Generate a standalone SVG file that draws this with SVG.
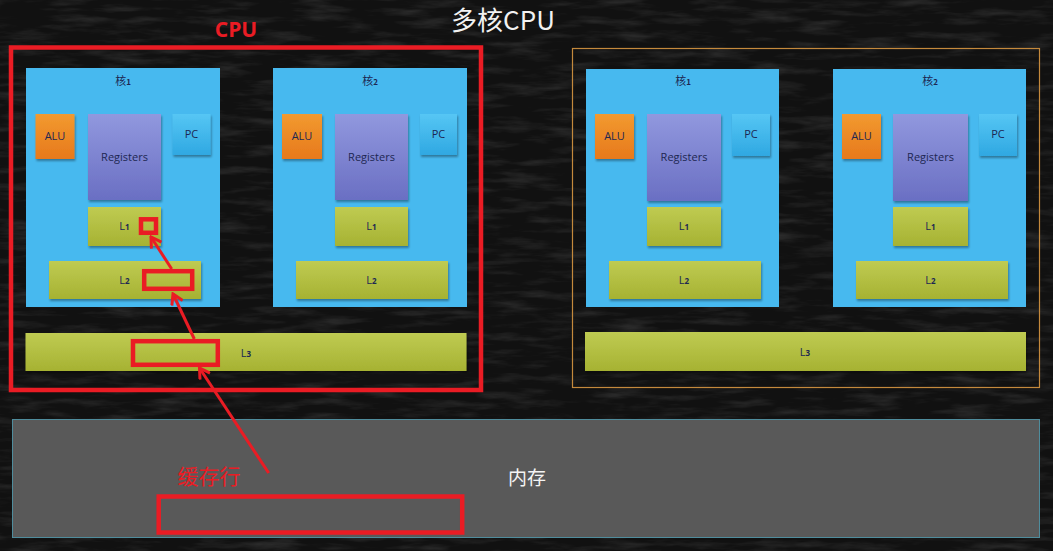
<svg xmlns="http://www.w3.org/2000/svg" width="1053" height="551" viewBox="0 0 1053 551">
  <defs>
    <filter id="chalk" x="0" y="0" width="100%" height="100%">
      <feTurbulence type="fractalNoise" baseFrequency="0.02 0.12" numOctaves="4" seed="11" result="n"/>
      <feColorMatrix in="n" type="matrix" values="0 0 0 0 1  0 0 0 0 1  0 0 0 0 1  0 0 0 1.1 -0.5" result="a"/>
      <feComposite in="a" in2="SourceGraphic" operator="in"/>
    </filter>
    <filter id="sh" x="-10%" y="-10%" width="130%" height="130%">
      <feDropShadow dx="1" dy="2" stdDeviation="1.2" flood-color="#000" flood-opacity="0.35"/>
    </filter>
    <linearGradient id="gAlu" x1="0" y1="0" x2="0" y2="1">
      <stop offset="0" stop-color="#f29a30"/>
      <stop offset="1" stop-color="#e7791b"/>
    </linearGradient>
    <linearGradient id="gReg" x1="0" y1="0" x2="0" y2="1">
      <stop offset="0" stop-color="#9198de"/>
      <stop offset="1" stop-color="#6a6fc3"/>
    </linearGradient>
    <linearGradient id="gPc" x1="0" y1="0" x2="0" y2="1">
      <stop offset="0" stop-color="#56c6f4"/>
      <stop offset="1" stop-color="#2fa8e2"/>
    </linearGradient>
    <linearGradient id="gL" x1="0" y1="0" x2="0" y2="1">
      <stop offset="0" stop-color="#bfcb52"/>
      <stop offset="1" stop-color="#a6b232"/>
    </linearGradient>
    <marker id="arr" viewBox="0 0 14 14" refX="12" refY="7" markerWidth="14" markerHeight="14" markerUnits="userSpaceOnUse" orient="auto">
      <path d="M2,1 L12,7 L2,13" fill="none" stroke="#ea1c24" stroke-width="3"/>
    </marker>
    <style>
      .core { fill: #47b9ef; }
      .alu { fill: url(#gAlu); filter: url(#sh); }
      .reg { fill: url(#gReg); filter: url(#sh); }
      .pc { fill: url(#gPc); filter: url(#sh); }
      .lc { fill: url(#gL); filter: url(#sh); }
      .t { font-family: "Open Sans", "Noto Sans", "Noto Sans CJK SC", sans-serif; font-size: 11px; fill: #1d2752; text-anchor: middle; }
      .tc { font-family: "Noto Sans CJK SC", "Noto Sans", sans-serif; font-size: 11px; fill: #1d2752; text-anchor: middle; }
      .hl { fill: none; stroke: #ea1c24; stroke-width: 4.5; }
      .conn { fill: none; stroke: #ea1c24; stroke-width: 3; marker-end: url(#arr); }
      .red { font-family: "Noto Sans CJK SC", sans-serif; fill: #ea1c24; }
    </style>
  </defs>

  <!-- background -->
  <rect x="0" y="0" width="1053" height="551" fill="#111111"/>
  <rect x="0" y="0" width="1053" height="551" fill="#fff" filter="url(#chalk)" opacity="0.22"/>

  <!-- title -->
  <text id="title" x="503" y="30" font-family="Noto Sans CJK SC, Noto Sans, sans-serif" font-size="26" fill="#f2f2f2" text-anchor="middle">多核CPU</text>

  <!-- left CPU -->
  <g id="cpu1">
    <g id="cpu1-core1">
      <rect class="core" x="26" y="68" width="194" height="239"/>
      <text class="tc" x="123" y="85">核<tspan font-size="8" font-weight="bold">1</tspan></text>
      <rect class="alu" x="35.5" y="114" width="39" height="45"/>
      <text class="t" x="55" y="140">ALU</text>
      <rect class="reg" x="88" y="114" width="73" height="86"/>
      <text class="t" x="124.5" y="161">Registers</text>
      <rect class="pc" x="172.5" y="114" width="38" height="41"/>
      <text class="t" x="191.5" y="138">PC</text>
      <rect class="lc" x="88" y="207" width="73" height="39"/>
      <text class="t" x="124.5" y="230">L<tspan font-size="8" font-weight="bold">1</tspan></text>
      <rect class="lc" x="49" y="261" width="152" height="38"/>
      <text class="t" x="124.5" y="284">L<tspan font-size="8" font-weight="bold">2</tspan></text>
    </g>
    <g id="cpu1-core2">
      <rect class="core" x="273" y="68" width="194" height="239"/>
      <text class="tc" x="370" y="85">核<tspan font-size="8" font-weight="bold">2</tspan></text>
      <rect class="alu" x="282" y="114" width="40" height="45"/>
      <text class="t" x="302" y="140">ALU</text>
      <rect class="reg" x="335" y="114" width="73" height="86"/>
      <text class="t" x="371.5" y="161">Registers</text>
      <rect class="pc" x="420" y="114" width="37" height="41"/>
      <text class="t" x="438.5" y="138">PC</text>
      <rect class="lc" x="335" y="207" width="73" height="39"/>
      <text class="t" x="371.5" y="230">L<tspan font-size="8" font-weight="bold">1</tspan></text>
      <rect class="lc" x="296" y="261" width="152" height="38"/>
      <text class="t" x="371.5" y="284">L<tspan font-size="8" font-weight="bold">2</tspan></text>
    </g>
    <g id="cpu1-l3">
      <rect class="lc" x="25.5" y="333" width="441" height="38"/>
      <text class="t" x="246" y="357">L<tspan font-size="8" font-weight="bold">3</tspan></text>
    </g>
    <rect id="cpu1-frame" class="hl" x="11" y="47.5" width="470" height="342.5" stroke-width="5"/>
    <text id="cpu-label" x="236" y="37" font-family="Open Sans, Noto Sans, sans-serif" font-weight="bold" font-size="21" fill="#ea1c24" text-anchor="middle">CPU</text>
  </g>

  <!-- right CPU -->
  <g id="cpu2">
    <rect id="cpu2-frame" x="572.5" y="48.5" width="467" height="339" fill="none" stroke="#c4893c" stroke-width="1.2"/>
    <g id="cpu2-core1">
      <rect class="core" x="586" y="69" width="193" height="238"/>
      <text class="tc" x="683" y="85">核<tspan font-size="8" font-weight="bold">1</tspan></text>
      <rect class="alu" x="595" y="114" width="39" height="45"/>
      <text class="t" x="614.5" y="140">ALU</text>
      <rect class="reg" x="647" y="114" width="74" height="87"/>
      <text class="t" x="684" y="161">Registers</text>
      <rect class="pc" x="732" y="114" width="38" height="42"/>
      <text class="t" x="751" y="138">PC</text>
      <rect class="lc" x="647" y="207" width="74" height="39"/>
      <text class="t" x="684" y="230">L<tspan font-size="8" font-weight="bold">1</tspan></text>
      <rect class="lc" x="609" y="261" width="152" height="38"/>
      <text class="t" x="684" y="284">L<tspan font-size="8" font-weight="bold">2</tspan></text>
    </g>
    <g id="cpu2-core2">
      <rect class="core" x="833" y="69" width="193" height="238"/>
      <text class="tc" x="930" y="85">核<tspan font-size="8" font-weight="bold">2</tspan></text>
      <rect class="alu" x="842" y="114" width="39" height="45"/>
      <text class="t" x="861.5" y="140">ALU</text>
      <rect class="reg" x="893" y="114" width="75" height="87"/>
      <text class="t" x="930.5" y="161">Registers</text>
      <rect class="pc" x="979" y="114" width="38" height="42"/>
      <text class="t" x="998" y="138">PC</text>
      <rect class="lc" x="893" y="207" width="75" height="39"/>
      <text class="t" x="930.5" y="230">L<tspan font-size="8" font-weight="bold">1</tspan></text>
      <rect class="lc" x="856" y="261" width="152" height="38"/>
      <text class="t" x="930.5" y="284">L<tspan font-size="8" font-weight="bold">2</tspan></text>
    </g>
    <g id="cpu2-l3">
      <rect class="lc" x="585" y="332" width="441" height="39"/>
      <text class="t" x="805" y="356">L<tspan font-size="8" font-weight="bold">3</tspan></text>
    </g>
  </g>

  <!-- memory -->
  <g id="memory">
    <rect x="12.5" y="419.5" width="1027" height="118" fill="#595959" stroke="#4f8c9c" stroke-width="1"/>
    <text x="527" y="485" font-family="Noto Sans CJK SC, sans-serif" font-size="19" fill="#f4f4f4" text-anchor="middle">内存</text>
  </g>

  <!-- cache line highlights -->
  <g id="highlights">
    <rect id="hl-l1" class="hl" x="141" y="219.3" width="15" height="13.5"/>
    <rect id="hl-l2" class="hl" x="144.2" y="271.2" width="48" height="17.6"/>
    <rect id="hl-l3" class="hl" x="133" y="341.2" width="84.8" height="23.6"/>
    <rect id="hl-mem" class="hl" x="158.7" y="496.5" width="303.5" height="36" stroke-width="5"/>
    <text id="cache-line-label" class="red" x="209" y="484" font-size="21" text-anchor="middle">缓存行</text>
  </g>

  <!-- connectors -->
  <g id="connectors">
    <line class="conn" x1="268.7" y1="473" x2="199.5" y2="368"/>
    <line class="conn" x1="194.3" y1="339" x2="173" y2="294"/>
    <line class="conn" x1="171.7" y1="269" x2="151" y2="237"/>
  </g>
</svg>
